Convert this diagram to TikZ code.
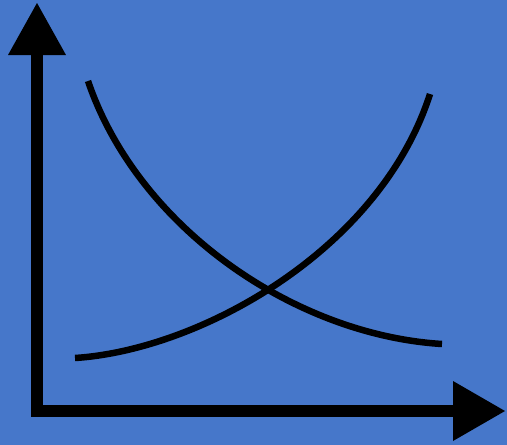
\documentclass[tikz,border=0pt]{standalone}
\definecolor{bgblue}{HTML}{4677CA}
\begin{document}
\begin{tikzpicture}[x=1pt,y=-1pt,
  curve/.style={line width=6.5pt, black, line cap=butt},
  axisfill/.style={fill=black}]
\fill[bgblue] (0,0) rectangle (507,445);
\useasboundingbox (0,0) rectangle (507,445);
% axes
\fill[axisfill] (31,54) rectangle (43,417);
\fill[axisfill] (31,405) rectangle (454,417);
\fill[axisfill] (8,55) -- (66,55) -- (37,3) -- cycle;
\fill[axisfill] (453,381) -- (453,441) -- (505,411) -- cycle;
% curves
\coordinate (c1s) at (88,81);
\coordinate (c1e) at (442,344);
\coordinate (c2s) at (75,358);
\coordinate (c2e) at (430,94);
\draw[curve] (c1s) .. controls (138,228) and (295,335) .. (c1e);
\draw[curve] (c2s) .. controls (200,350) and (380,250) .. (c2e);
\end{tikzpicture}
\end{document}
